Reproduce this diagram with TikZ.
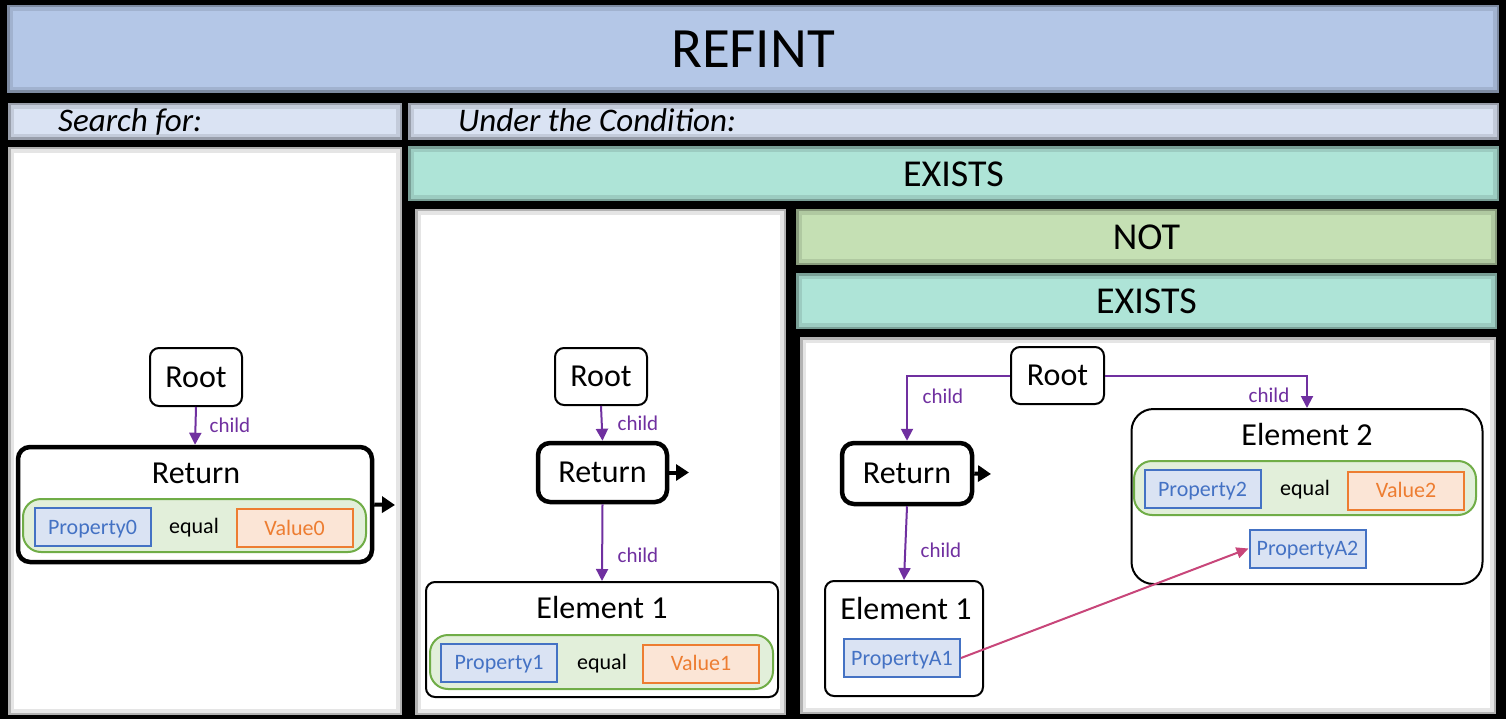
\documentclass[tikz,border=0pt]{standalone}
\usepackage{fontspec}
\setmainfont{Carlito}
\usetikzlibrary{arrows.meta}
\definecolor{titleblue}{HTML}{B4C7E7}
\definecolor{hdrblue}{HTML}{DAE3F3}
\definecolor{teal}{HTML}{AEE4D7}
\definecolor{notgreen}{HTML}{C5E0B4}
\definecolor{grpgreen}{HTML}{70AD47}
\definecolor{grpfill}{HTML}{E2EFDA}
\definecolor{propblue}{HTML}{4472C4}
\definecolor{propfill}{HTML}{DAE3F3}
\definecolor{valorange}{HTML}{ED7D31}
\definecolor{valfill}{HTML}{FBE5D6}
\definecolor{purp}{HTML}{7030A0}
\definecolor{pinkarr}{HTML}{C8467A}
\tikzset{
  panel/.style={inner sep=0pt, outer sep=0pt,
    path picture={
      \draw[black, opacity=0.10, line width=12pt] (path picture bounding box.south west) rectangle (path picture bounding box.north east);
      \draw[black, opacity=0.22, line width=5pt] (path picture bounding box.south west) rectangle (path picture bounding box.north east);}},
  bigtext/.style={font=\fontsize{38}{44}\selectfont},
  hdrtext/.style={font=\fontsize{33}{38}\selectfont\itshape, inner sep=0pt, anchor=base west},
  box/.style={draw=black, line width=2pt, rounded corners=9pt, fill=white, inner sep=0pt,
    text height=27pt, text depth=7pt, font=\fontsize{32}{38}\selectfont},
  retbox/.style={box, line width=4.5pt, rounded corners=12pt},
  boxtext/.style={inner sep=0pt, text height=27pt, text depth=7pt, font=\fontsize{32}{38}\selectfont},
  grp/.style={draw=grpgreen, fill=grpfill, line width=2pt, rounded corners=18pt, inner sep=0pt},
  prop/.style={draw=propblue, fill=propfill, line width=2pt, text=propblue, inner sep=0pt,
    minimum width=116pt, minimum height=38pt, text height=19pt, text depth=5pt,
    font=\fontsize{22}{26}\selectfont},
  val/.style={prop, draw=valorange, fill=valfill, text=valorange},
  eqtext/.style={inner sep=0pt, text height=19pt, text depth=5pt, font=\fontsize{22}{26}\selectfont},
  lbl/.style={text=purp, inner sep=0pt, text height=18.5pt, text depth=5pt, font=\fontsize{21}{25}\selectfont},
  childarr/.style={draw=purp, line width=2pt, -{Triangle[length=12pt,width=12pt]}},
  outarr/.style={draw=black, line width=4pt, -{Triangle[length=13pt,width=16pt]}},
  refarr/.style={draw=pinkarr, line width=2pt, -{Triangle[length=12pt,width=11pt]}}
}
\begin{document}
\begin{tikzpicture}[x=1pt,y=-1pt]
\fill[black] (0,0) rectangle (1506,719);
\useasboundingbox (0,0) rectangle (1506,719);

% panels
\node[panel, fill=titleblue, minimum width=1492pt, minimum height=88pt, font=\fontsize{57}{64}\selectfont] (title) at (753,49) {REFINT};
\node[panel, fill=hdrblue, minimum width=394pt, minimum height=37pt] (shdr) at (205,121.5) {};
\node[hdrtext] (stext) at (58,132) {Search for:};
\node[panel, fill=hdrblue, minimum width=1091pt, minimum height=37pt] (chdr) at (953.5,121.5) {};
\node[hdrtext] (ctext) at (458,132) {Under the Condition:};
\node[panel, fill=white, minimum width=394pt, minimum height=568pt] (lp) at (205,431) {};
\node[panel, fill=teal, minimum width=1091pt, minimum height=55pt, bigtext] (ex1) at (953.5,174) {EXISTS};
\node[panel, fill=white, minimum width=371pt, minimum height=506pt] (mp) at (600.5,462) {};
\node[panel, fill=notgreen, minimum width=701pt, minimum height=56pt, bigtext] (notb) at (1146.5,237) {NOT};
\node[panel, fill=teal, minimum width=701pt, minimum height=56pt, bigtext] (ex2) at (1146.5,301) {EXISTS};
\node[panel, fill=white, minimum width=696pt, minimum height=377pt] (rp) at (1148,525.5) {};

% ---------- left panel ----------
\node[box, minimum width=92pt, minimum height=58pt] (root0) at (196,377) {Root};
\node[retbox, minimum width=354pt, minimum height=115pt] (ret0) at (195,504.5) {};
\node[boxtext] (ret0t) at (196,473) {Return};
\node[grp, minimum width=343pt, minimum height=53pt] (grp0) at (194.5,525.5) {};
\node[prop] (p0) at (92.5,527) {Property0};
\node[eqtext] (eq0) at (194,526) {equal};
\node[val] (v0) at (294.5,528) {Value0};
\draw[childarr] (root0.south) -- (ret0.north);
\node[lbl] (c0) at (230,426) {child};
\coordinate (o0) at (395,505);
\draw[outarr] (ret0.east) -- (o0);

% ---------- middle panel ----------
\node[box, minimum width=92pt, minimum height=57pt] (root1) at (601,376.5) {Root};
\node[retbox, minimum width=129pt, minimum height=59pt] (ret1) at (602.5,472.5) {Return};
\node[box, minimum width=352pt, minimum height=115pt] (el1) at (602,639.5) {};
\node[boxtext] (el1t) at (602,608) {Element 1};
\node[grp, minimum width=343pt, minimum height=54pt] (grp1) at (601.5,662) {};
\node[prop] (p1) at (499,662.5) {Property1};
\node[eqtext] (eq1) at (602,662) {equal};
\node[val] (v1) at (701,663.5) {Value1};
\draw[childarr] (root1.south) -- (ret1.north);
\node[lbl] (c1) at (638,424) {child};
\draw[childarr] (ret1.south) -- (el1.north);
\node[lbl] (c2) at (638,556) {child};
\coordinate (o1) at (689,472.5);
\draw[outarr] (ret1.east) -- (o1);

% ---------- right panel ----------
\node[box, minimum width=93pt, minimum height=57pt] (root2) at (1057.5,375.5) {Root};
\node[retbox, minimum width=130pt, minimum height=61pt] (ret2) at (907,473.5) {Return};
\node[box, minimum width=158pt, minimum height=115pt] (el3) at (904,638.5) {};
\node[boxtext] (el3t) at (906,609) {Element 1};
\node[prop] (pa1) at (902,658) {PropertyA1};
\node[box, minimum width=351pt, minimum height=175pt, rounded corners=22pt] (el2) at (1307,496.5) {};
\node[boxtext] (el2t) at (1307,435) {Element 2};
\node[grp, minimum width=342pt, minimum height=54pt] (grp2) at (1305,488) {};
\node[prop] (p2) at (1202.5,489) {Property2};
\node[eqtext] (eq2) at (1305,488) {equal};
\node[val] (v2) at (1406,490.5) {Value2};
\node[prop] (pa2) at (1307.5,548.5) {PropertyA2};
\draw[childarr] (root2.west) -| (ret2.north);
\node[lbl] (c3) at (943,397) {child};
\draw[childarr] (root2.east) -| (el2.north);
\node[lbl] (c4) at (1269,396) {child};
\draw[childarr] (ret2.south) -- (el3.north);
\node[lbl] (c5) at (941,551) {child};
\coordinate (o2) at (991,474);
\draw[outarr] (ret2.east) -- (o2);
\draw[refarr] (pa1.east) -- (pa2.west);
\end{tikzpicture}
\end{document}
